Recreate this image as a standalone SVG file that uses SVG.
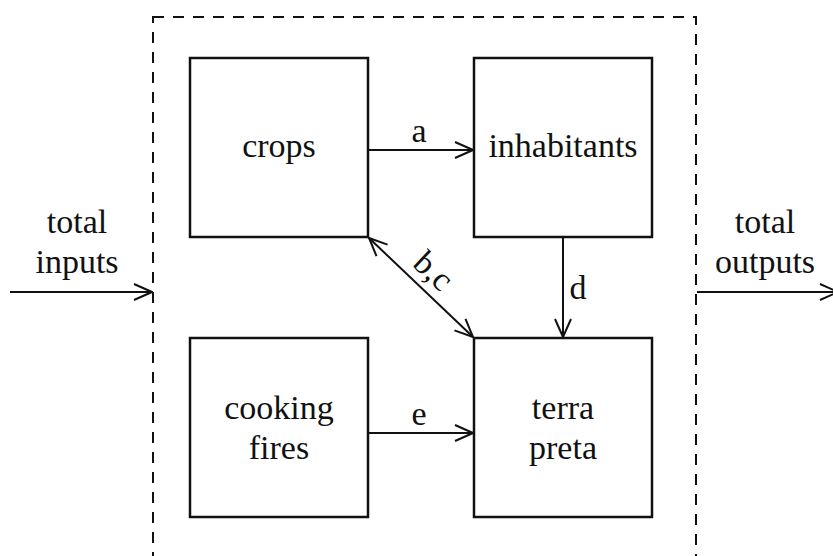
<svg xmlns="http://www.w3.org/2000/svg" width="833" height="556" viewBox="0 0 833 556">
  <style>
    .box { fill: #fff; stroke: #111; stroke-width: 2.5; }
    .frame { fill: none; stroke: #111; stroke-width: 2; stroke-dasharray: 11 9; }
    .wire { fill: none; stroke: #111; stroke-width: 2; }
    .lbl { font-family: 'Liberation Serif', 'DejaVu Serif', serif; font-size: 34px; fill: #111; text-anchor: middle; }
  </style>
  <defs>
    <marker id="head" viewBox="0 0 20 20" refX="19" refY="10" markerWidth="20" markerHeight="20" markerUnits="userSpaceOnUse" orient="auto-start-reverse">
      <path d="M1 2 L19 10 L1 18" fill="none" stroke="#111" stroke-width="2"/>
    </marker>
  </defs>

  <!-- system boundary -->
  <rect class="frame" x="153" y="17" width="543" height="600"/>

  <g id="crops">
    <rect class="box" x="190" y="58" width="178" height="179"/>
    <text class="lbl" x="279" y="157">crops</text>
  </g>
  <g id="inhabitants">
    <rect class="box" x="474" y="58" width="178" height="179"/>
    <text class="lbl" x="563" y="157">inhabitants</text>
  </g>
  <g id="cooking-fires">
    <rect class="box" x="190" y="338" width="178" height="179"/>
    <text class="lbl" x="279" y="419">cooking</text>
    <text class="lbl" x="279" y="459">fires</text>
  </g>
  <g id="terra-preta">
    <rect class="box" x="474" y="338" width="178" height="179"/>
    <text class="lbl" x="563" y="419">terra</text>
    <text class="lbl" x="563" y="459">preta</text>
  </g>

  <g id="connectors">
    <line class="wire" x1="368" y1="150" x2="473" y2="150" marker-end="url(#head)"/>
    <text class="lbl" x="419" y="142">a</text>
    <line class="wire" x1="369" y1="238" x2="473" y2="337" marker-start="url(#head)" marker-end="url(#head)"/>
    <text class="lbl" transform="translate(426 279) rotate(43)" x="0" y="0">b,c</text>
    <line class="wire" x1="563" y1="237" x2="563" y2="337" marker-end="url(#head)"/>
    <text class="lbl" x="578" y="299">d</text>
    <line class="wire" x1="368" y1="433" x2="473" y2="433" marker-end="url(#head)"/>
    <text class="lbl" x="419" y="425">e</text>
    <line class="wire" x1="10" y1="292" x2="152" y2="292" marker-end="url(#head)"/>
    <text class="lbl" x="77" y="233">total</text>
    <text class="lbl" x="77" y="273">inputs</text>
    <line class="wire" x1="697" y1="292" x2="838" y2="292" marker-end="url(#head)"/>
    <text class="lbl" x="765" y="233">total</text>
    <text class="lbl" x="765" y="273">outputs</text>
  </g>
</svg>
